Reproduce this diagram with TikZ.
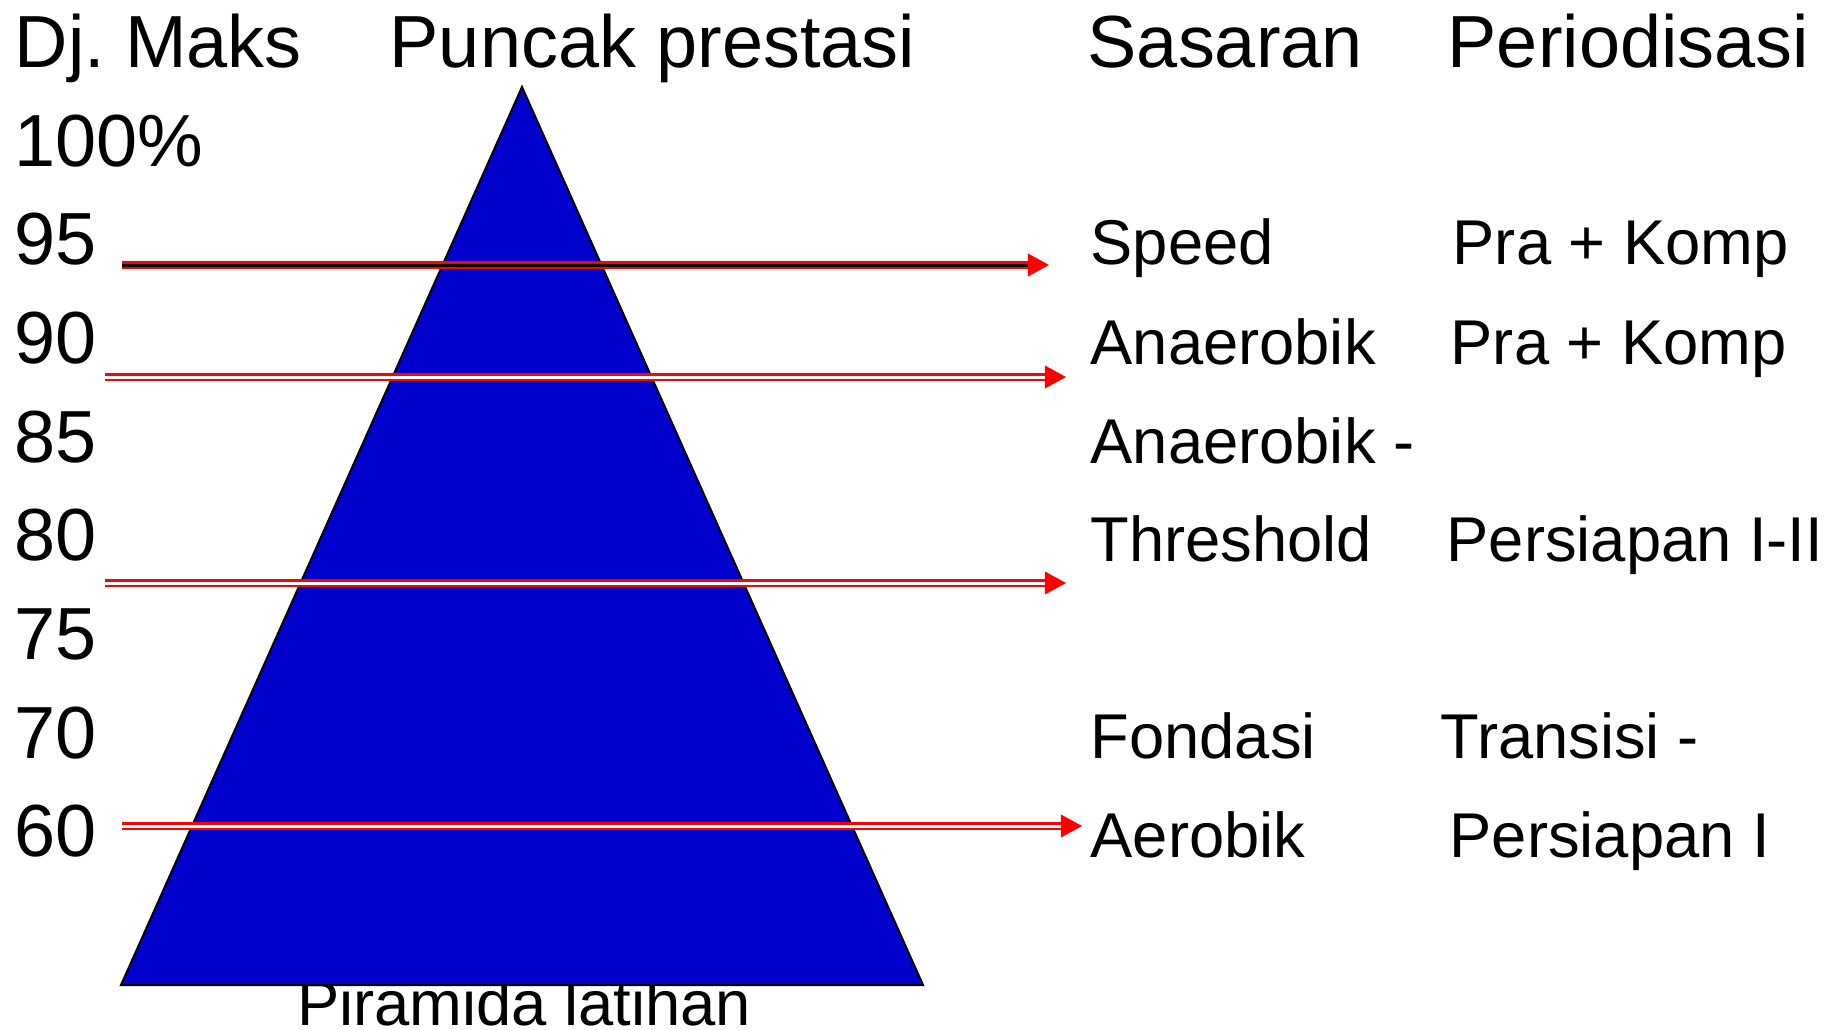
\documentclass[tikz,border=0pt]{standalone}
\usepackage{fontspec}
\setmainfont{Liberation Sans}
\usetikzlibrary{arrows.meta}
\definecolor{PyramidBlue}{HTML}{0000CC}
\definecolor{RailRed}{HTML}{FF0000}
\tikzset{
  big/.style={font=\fontsize{21}{25}\selectfont,inner sep=0pt,anchor=base west},
  small/.style={font=\fontsize{18}{22}\selectfont,inner sep=0pt,anchor=base west},
  rail/.style={draw=RailRed,double=white,line width=0.022cm,double distance=0.03cm,
    -{Triangle[length=0.21cm,width=0.23cm,color=RailRed,fill=RailRed,line width=0pt]}},
}
\begin{document}
\begin{tikzpicture}[x=0.01cm,y=-0.01cm]
  \useasboundingbox (0,0) rectangle (1836,1029);
  % headings
  \node[big] (dj) at (14,67) {Dj.\ Maks};
  \node[big] (puncak) at (389,67) {Puncak prestasi};
  \node[big] (sasaran) at (1087,67) {Sasaran};
  \node[big] (period) at (1447,67) {Periodisasi};
  % intensity scale
  \foreach \v [count=\i from 0] in {100\%,95,90,85,80,75,70,60}
    \node[big] (lv\i) at (14,166+98.7*\i) {\v};
  % pyramid
  \node[small,anchor=base] (caption) at (524,1025) {Piramida latihan};
  \coordinate (apex) at (522,87);
  \coordinate (baseL) at (121,985);
  \coordinate (baseR) at (923,985);
  \filldraw[fill=PyramidBlue,draw=black,line width=0.02cm] (apex) -- (baseL) -- (baseR) -- cycle;
  % targets
  \node[small] (speed) at (1090,264) {Speed};
  \node[small] (anae) at (1090,364) {Anaerobik};
  \node[small] (anaeb) at (1090,463) {Anaerobik -};
  \node[small] (thresh) at (1090,561) {Threshold};
  \node[small] (fond) at (1090,758) {Fondasi};
  \node[small] (aero) at (1090,857) {Aerobik};
  % periods
  \node[small] (pra) at (1452,264) {Pra + Komp};
  \node[small] (prab) at (1450,364) {Pra + Komp};
  \node[small] (pers) at (1446,561) {Persiapan I-II};
  \node[small] (trans) at (1440,758) {Transisi -};
  \node[small] (persb) at (1449,857) {Persiapan I};
  % arrows
  \coordinate (s1) at (122,265);  \coordinate (e1) at (1049,265);
  \coordinate (s2) at (105,377);  \coordinate (e2) at (1066,377);
  \coordinate (s3) at (105,583);  \coordinate (e3) at (1066,583);
  \coordinate (s4) at (122,826);  \coordinate (e4) at (1082,826);
  \draw[rail,double=black] (s1) -- (e1);
  \draw[rail] (s2) -- (e2);
  \draw[rail] (s3) -- (e3);
  \draw[rail] (s4) -- (e4);
\end{tikzpicture}
\end{document}
